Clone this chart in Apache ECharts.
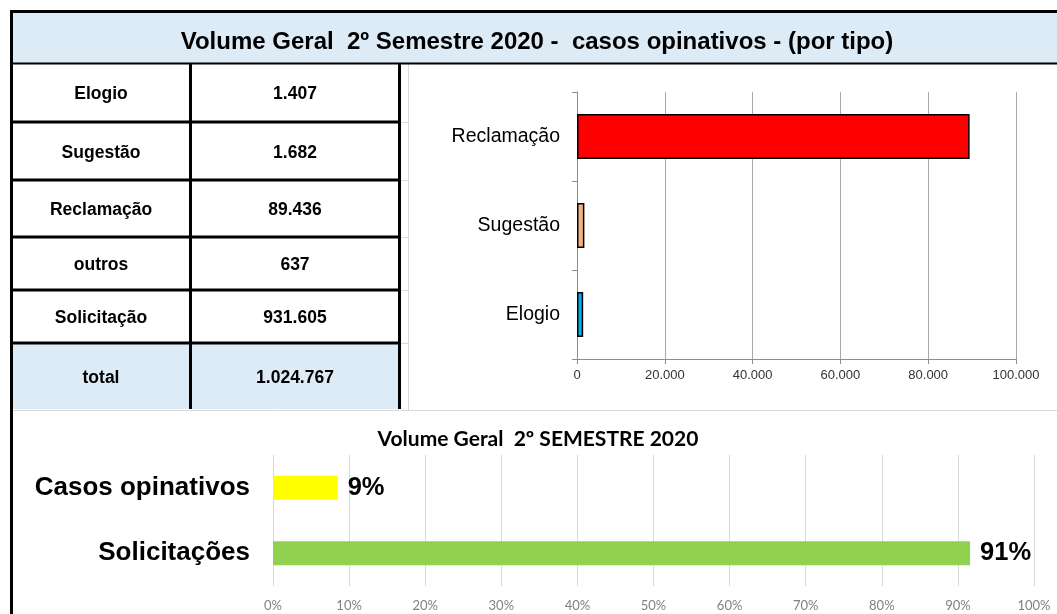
<!DOCTYPE html>
<html>
<head>
<meta charset="utf-8">
<script src="https://cdn.jsdelivr.net/npm/echarts@6/dist/echarts.min.js"></script>
<style>
  body { margin: 0; background: #fff; }
  #main { width: 1057px; height: 614px; }
</style>
</head>
<body>
<div id="main"></div>
<script>
// tabela: tipos e volumes
const tableLabels = ['Elogio', 'Sugestão', 'Reclamação', 'outros', 'Solicitação', 'total'];
const tableValues = [1407, 1682, 89436, 637, 931605, 1024767];

// grafico de cima (por tipo)
const tipoCats = ['Elogio', 'Sugestão', 'Reclamação'];
const tipoVals = [1407, 1682, 89436];
const tipoColors = ['#00B0F0', '#F4B183', '#FF0000'];

// grafico de baixo (percentual)
const pctCats = ['Solicitações', 'Casos opinativos'];
const pctVals = [91.6, 8.5];
const pctLabels = ['91%', '9%'];
const pctColors = ['#92D050', '#FFFF00'];

const mainTitle = 'Volume Geral  2º Semestre 2020 -  casos opinativos - (por tipo)';
const subTitle = 'Volume Geral  2º SEMESTRE 2020';

function fmt(v) {
  return String(v).replace(/\B(?=(\d{3})+(?!\d))/g, '.');
}

// layout da tabela
const rowEdges = [63, 122, 180, 237, 290, 343, 409];
const col1 = 101, col2 = 295;
const arial = '"Liberation Sans", Arial, sans-serif';

let graphics = [];
// faixa do titulo
graphics.push({ type: 'rect', shape: { x: 12, y: 12, width: 1045, height: 51 }, style: { fill: '#DDEBF7' }, z: 0 });
// linha total azul
graphics.push({ type: 'rect', shape: { x: 12, y: rowEdges[5], width: 387, height: rowEdges[6] - rowEdges[5] }, style: { fill: '#DDEBF7' }, z: 0 });
// caixa do grafico
graphics.push({ type: 'line', shape: { x1: 408.5, y1: 64, x2: 408.5, y2: 410 }, style: { stroke: '#D9D9D9', lineWidth: 1 }, z: 1 });
graphics.push({ type: 'line', shape: { x1: 12, y1: 410.5, x2: 1057, y2: 410.5 }, style: { stroke: '#D9D9D9', lineWidth: 1 }, z: 1 });
// bordas externas
graphics.push({ type: 'line', shape: { x1: 10, y1: 11.5, x2: 1057, y2: 11.5 }, style: { stroke: '#000', lineWidth: 3 }, z: 5 });
graphics.push({ type: 'line', shape: { x1: 11.5, y1: 10, x2: 11.5, y2: 614 }, style: { stroke: '#000', lineWidth: 3 }, z: 5 });
graphics.push({ type: 'line', shape: { x1: 10, y1: 63.5, x2: 1057, y2: 63.5 }, style: { stroke: '#000', lineWidth: 2 }, z: 5 });
// linhas da tabela
for (let i = 1; i < rowEdges.length - 1; i++) {
  graphics.push({ type: 'line', shape: { x1: 10, y1: rowEdges[i], x2: 401, y2: rowEdges[i] }, style: { stroke: '#000', lineWidth: 3 }, z: 5 });
  graphics.push({ type: 'line', shape: { x1: 401, y1: rowEdges[i] + 0.5, x2: 408, y2: rowEdges[i] + 0.5 }, style: { stroke: '#D9D9D9', lineWidth: 1 }, z: 1 });
}
graphics.push({ type: 'line', shape: { x1: 190.5, y1: 63, x2: 190.5, y2: 409 }, style: { stroke: '#000', lineWidth: 3 }, z: 5 });
graphics.push({ type: 'line', shape: { x1: 399.5, y1: 63, x2: 399.5, y2: 409 }, style: { stroke: '#000', lineWidth: 3 }, z: 5 });
// textos da tabela
tableLabels.forEach(function (lab, i) {
  let cy = (rowEdges[i] + rowEdges[i + 1]) / 2 + 2;
  graphics.push({ type: 'text', x: col1, y: cy, style: { text: lab, font: 'bold 17.5px ' + arial, fill: '#000', textAlign: 'center', textVerticalAlign: 'middle' }, z: 6 });
  graphics.push({ type: 'text', x: col2, y: cy, style: { text: fmt(tableValues[i]), font: 'bold 17.5px ' + arial, fill: '#000', textAlign: 'center', textVerticalAlign: 'middle' }, z: 6 });
});
// titulos
graphics.push({ type: 'text', x: 537, y: 42, style: { text: mainTitle, font: 'bold 24px ' + arial, fill: '#000', textAlign: 'center', textVerticalAlign: 'middle' }, z: 6 });
graphics.push({ type: 'text', x: 538, y: 439, style: { text: subTitle, font: 'bold 21px Lato, sans-serif', fill: '#000', textAlign: 'center', textVerticalAlign: 'middle' }, z: 6 });

let chart = echarts.init(document.getElementById('main'));
let option = {
  animation: false,
  backgroundColor: '#fff',
  graphic: graphics,
  grid: [
    { left: 577, right: 41, top: 92, bottom: 255 },
    { left: 273, right: 23, top: 455, bottom: 28 }
  ],
  xAxis: [
    {
      gridIndex: 0,
      type: 'value',
      min: 0,
      max: 100000,
      interval: 20000,
      axisLine: { show: true, lineStyle: { color: '#8C8C8C' } },
      axisTick: { show: true, length: 5, lineStyle: { color: '#8C8C8C' } },
      axisLabel: { color: '#333', fontSize: 13, fontFamily: arial, margin: 10, formatter: function (v) { return fmt(v); } },
      splitLine: { show: true, lineStyle: { color: '#A8A8A8' } }
    },
    {
      gridIndex: 1,
      type: 'value',
      min: 0,
      max: 100,
      interval: 10,
      axisLine: { show: false },
      axisTick: { show: false },
      axisLabel: { color: '#808080', fontSize: 13, fontFamily: 'Lato, sans-serif', margin: 13, formatter: '{value}%' },
      splitLine: { show: true, lineStyle: { color: '#D9D9D9' } }
    }
  ],
  yAxis: [
    {
      gridIndex: 0,
      type: 'category',
      data: tipoCats,
      axisLine: { show: true, lineStyle: { color: '#8C8C8C' } },
      axisTick: { show: true, length: 5, lineStyle: { color: '#8C8C8C' } },
      axisLabel: { color: '#000', fontSize: 19.5, fontFamily: arial, margin: 17 }
    },
    {
      gridIndex: 1,
      type: 'category',
      data: pctCats,
      axisLine: { show: false },
      axisTick: { show: false },
      axisLabel: { color: '#000', fontSize: 26, fontWeight: 'bold', fontFamily: arial, margin: 23 }
    }
  ],
  series: [
    {
      type: 'bar',
      xAxisIndex: 0,
      yAxisIndex: 0,
      barWidth: 45,
      data: tipoVals.map(function (v, i) {
        return { value: v, itemStyle: { color: tipoColors[i], borderColor: '#000', borderWidth: 1.5 } };
      })
    },
    {
      type: 'bar',
      xAxisIndex: 1,
      yAxisIndex: 1,
      barWidth: 24,
      data: pctVals.map(function (v, i) {
        return { value: v, itemStyle: { color: pctColors[i] } };
      }),
      label: {
        show: true,
        position: 'right',
        distance: 10,
        color: '#000',
        fontSize: 25.5,
        fontWeight: 'bold',
        fontFamily: arial,
        formatter: function (p) { return pctLabels[p.dataIndex]; }
      }
    }
  ]
};
chart.setOption(option);
</script>
</body>
</html>
